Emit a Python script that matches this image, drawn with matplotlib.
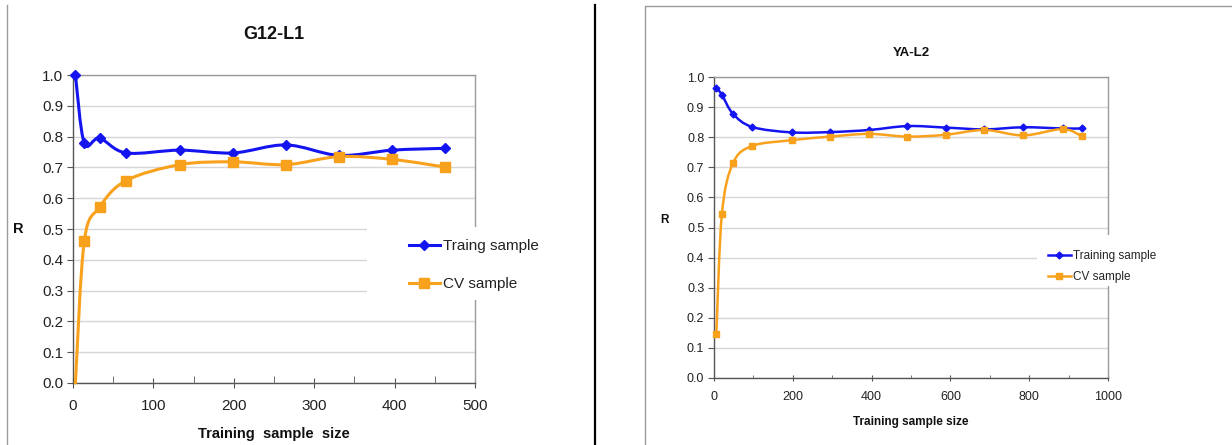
import matplotlib

matplotlib.use("Agg")
import matplotlib.pyplot as plt
from matplotlib.lines import Line2D
from matplotlib.patches import PathPatch, Rectangle
from matplotlib.path import Path
from matplotlib.ticker import MultipleLocator

BLUE = "#1414f0"
ORANGE = "#f8a11c"
GRID_COLOR = "#d6d6d6"
FRAME_COLOR = "#9a9a9a"
AXIS_COLOR = "#555555"
TEXT_COLOR = "#222222"

# G12-L1 panel
g12_x = [3, 14, 33, 66, 133, 199, 265, 331, 397, 463]
g12_train = [1.0, 0.779, 0.795, 0.747, 0.756, 0.747, 0.773, 0.739, 0.756, 0.762]
g12_cv_x = [3, 14, 33, 66, 133, 199, 265, 331, 397, 463]
g12_cv = [0.0, 0.460, 0.571, 0.657, 0.709, 0.718, 0.709, 0.735, 0.726, 0.701]

# YA-L2 panel
ya_x = [6, 20, 48, 97, 197, 295, 394, 491, 588, 686, 785, 885, 934]
ya_train = [0.965, 0.941, 0.878, 0.834, 0.816, 0.817, 0.824, 0.837, 0.832,
            0.826, 0.833, 0.829, 0.829]
ya_cv = [0.146, 0.544, 0.713, 0.771, 0.790, 0.802, 0.811, 0.802, 0.808,
         0.824, 0.806, 0.827, 0.803]

Y_TICKS = [0.0, 0.1, 0.2, 0.3, 0.4, 0.5, 0.6, 0.7, 0.8, 0.9, 1.0]

plt.rcParams["font.family"] = ["Liberation Sans", "DejaVu Sans"]


def smooth_path(xs, ys):
    # Excel style smoothed line: Catmull-Rom segments as cubic Beziers
    pts = list(zip(xs, ys))
    n = len(pts)
    verts = [pts[0]]
    codes = [Path.MOVETO]
    for i in range(n - 1):
        p0 = pts[max(i - 1, 0)]
        p1 = pts[i]
        p2 = pts[i + 1]
        p3 = pts[min(i + 2, n - 1)]
        c1 = (p1[0] + (p2[0] - p0[0]) / 6, p1[1] + (p2[1] - p0[1]) / 6)
        c2 = (p2[0] - (p3[0] - p1[0]) / 6, p2[1] - (p3[1] - p1[1]) / 6)
        verts += [c1, c2, p2]
        codes += [Path.CURVE4] * 3
    return Path(verts, codes)


def draw_series(ax, xs, ys, color, marker, ms, lw, skip_first=False):
    patch = PathPatch(smooth_path(xs, ys), facecolor="none", edgecolor=color,
                      linewidth=lw, zorder=3, clip_on=False, capstyle="round")
    ax.add_patch(patch)
    mx = xs[1:] if skip_first else xs
    my = ys[1:] if skip_first else ys
    ax.plot(mx, my, linestyle="none", marker=marker, markersize=ms,
            color=color, markeredgecolor=color, zorder=4, clip_on=False)


def style_axes(ax, xmax, xmajor, xminor, tick_size, major_len, minor_len, xpad):
    ax.set_xlim(0, xmax)
    ax.set_ylim(0, 1.0)
    ax.set_yticks(Y_TICKS)
    ax.set_yticklabels([f"{t:.1f}" for t in Y_TICKS])
    ax.xaxis.set_major_locator(MultipleLocator(xmajor))
    ax.xaxis.set_minor_locator(MultipleLocator(xminor))
    ax.grid(axis="y", color=GRID_COLOR, linewidth=1.0)
    ax.set_axisbelow(True)
    for side in ["top", "right"]:
        ax.spines[side].set_color(FRAME_COLOR)
        ax.spines[side].set_linewidth(1.0)
    for side in ["left", "bottom"]:
        ax.spines[side].set_color(AXIS_COLOR)
        ax.spines[side].set_linewidth(1.0)
    ax.tick_params(axis="x", which="major", direction="inout", length=major_len,
                   color=AXIS_COLOR, labelsize=tick_size, labelcolor=TEXT_COLOR,
                   pad=xpad)
    ax.tick_params(axis="x", which="minor", direction="in", length=minor_len,
                   color=AXIS_COLOR)
    ax.tick_params(axis="y", direction="out", length=4, color=AXIS_COLOR,
                   labelsize=tick_size, labelcolor=TEXT_COLOR, pad=3)


def add_legend(ax, labels, box, anchor, fontsize, ms_train, ms_cv, lw,
               spacing, handlelength):
    ax.add_patch(Rectangle((box[0], box[1]), box[2], box[3], transform=ax.transAxes,
                           facecolor="white", edgecolor="none", zorder=5,
                           clip_on=False))
    handles = [
        Line2D([], [], color=BLUE, marker="D", markersize=ms_train, linewidth=lw),
        Line2D([], [], color=ORANGE, marker="s", markersize=ms_cv, linewidth=lw),
    ]
    leg = ax.legend(handles, labels, loc="upper left", bbox_to_anchor=anchor,
                    frameon=False, fontsize=fontsize, handlelength=handlelength,
                    handletextpad=0.25, labelspacing=spacing, borderaxespad=0,
                    borderpad=0)
    leg.set_zorder(6)
    for txt in leg.get_texts():
        txt.set_color(TEXT_COLOR)


fig = plt.figure(figsize=(12.32, 4.45), dpi=100)

# left panel
ax1 = fig.add_axes([73 / 1232, 62 / 445, 402 / 1232, 308 / 445])
style_axes(ax1, 500, 100, 50, 11, 7, 5, 8)
draw_series(ax1, g12_x, g12_train, BLUE, "D", 5, 2.2)
draw_series(ax1, g12_cv_x, g12_cv, ORANGE, "s", 6.5, 2.2, skip_first=True)
ax1.set_title("G12-L1", fontsize=13, fontweight="bold", pad=26, color="#111111")
ax1.set_xlabel("Training  sample  size", fontsize=10.5, fontweight="bold",
               labelpad=10, color="#111111")
ax1.set_ylabel("R", fontsize=10.5, fontweight="bold", rotation=0, labelpad=12,
               color="#111111")
ax1.yaxis.set_label_coords(-0.135, 0.476)
add_legend(ax1, ["Traing sample", "CV sample"],
           (0.731, 0.269, 0.48, 0.237), (0.836, 0.467), 11, 5, 6.5, 2.2, 1.58, 2.0)

# right panel
ax2 = fig.add_axes([714 / 1232, 67 / 445, 394 / 1232, 301 / 445])
style_axes(ax2, 1000, 200, 100, 9, 5, 2, 7)
draw_series(ax2, ya_x, ya_train, BLUE, "D", 3.5, 1.8)
draw_series(ax2, ya_x, ya_cv, ORANGE, "s", 5, 1.8)
ax2.set_title("YA-L2", fontsize=9.5, fontweight="bold", pad=15, color="#111111")
ax2.set_xlabel("Training sample size", fontsize=8.5, fontweight="bold",
               labelpad=9, color="#111111")
ax2.set_ylabel("R", fontsize=8.5, fontweight="bold", rotation=0, labelpad=10,
               color="#111111")
ax2.yaxis.set_label_coords(-0.125, 0.505)
add_legend(ax2, ["Training sample", "CV sample"],
           (0.82, 0.305, 0.45, 0.17), (0.848, 0.424), 8.5, 3.5, 5, 1.8, 0.72, 1.9)

# page frames around the two chart images
fig.add_artist(Line2D([7 / 1232, 7 / 1232], [0, 440 / 445], color=FRAME_COLOR,
                      linewidth=1.0, transform=fig.transFigure))
fig.add_artist(Line2D([595 / 1232, 595 / 1232], [0, 440 / 445], color="black",
                      linewidth=1.6, transform=fig.transFigure))
fig.add_artist(Line2D([645 / 1232, 645 / 1232, 1], [0, 439 / 445, 439 / 445],
                      color=FRAME_COLOR, linewidth=1.0, transform=fig.transFigure))

fig.savefig("out.png", dpi=100)
